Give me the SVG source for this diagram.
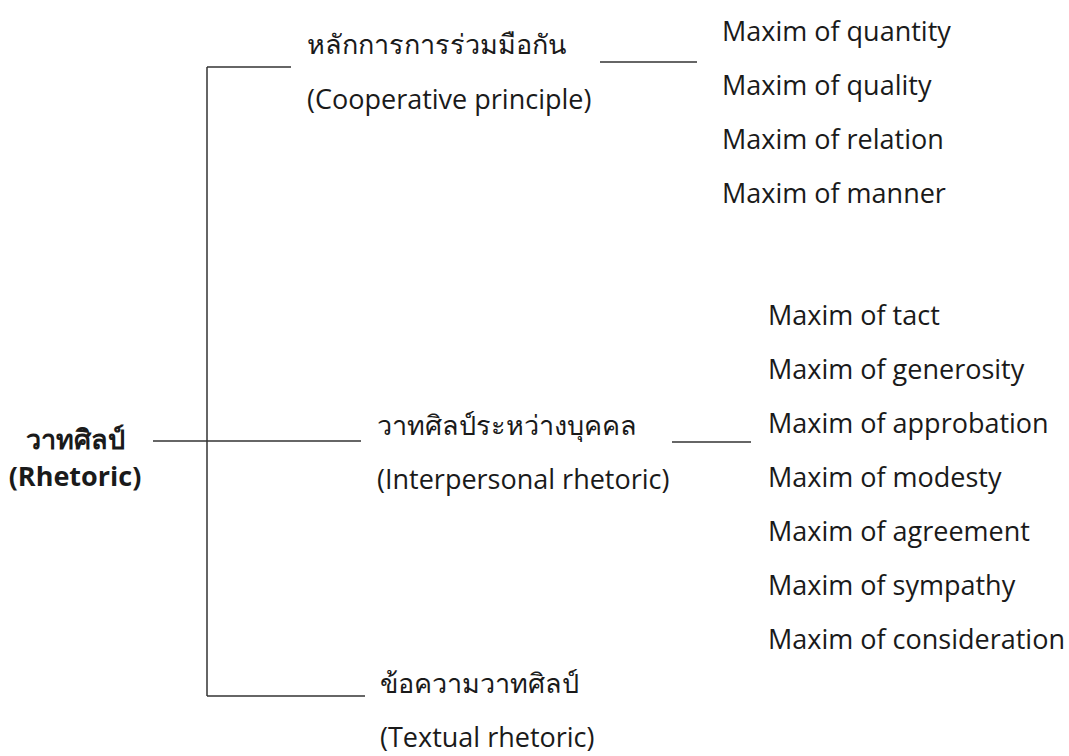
<svg xmlns="http://www.w3.org/2000/svg" width="1069" height="756" viewBox="0 0 1069 756">
<style>
text{font-family:"Open Sans","Noto Sans","DejaVu Sans",sans-serif;font-size:27px;fill:#1a1a1a}
.b{font-weight:bold}
line{stroke:#333;stroke-width:1.5}
</style>
<rect width="1069" height="756" fill="#fff"/>
<g id="connectors">
<line x1="207" y1="67" x2="207" y2="696"/>
<line x1="207" y1="67" x2="291" y2="67"/>
<line x1="153" y1="441" x2="361" y2="441"/>
<line x1="207" y1="696" x2="365" y2="696"/>
<line x1="600" y1="62" x2="697" y2="62"/>
<line x1="672" y1="442" x2="751" y2="442"/>
</g>
<g id="root"><text class="b" x="75" y="449" text-anchor="middle">วาทศิลป์</text><text class="b" x="75" y="486" text-anchor="middle">(Rhetoric)</text></g>
<g id="cooperative"><text x="307" y="54">หลักการการร่วมมือกัน</text><text x="307" y="109">(Cooperative principle)</text></g>
<g id="interpersonal"><text x="377" y="435">วาทศิลป์ระหว่างบุคคล</text><text x="377" y="489">(Interpersonal rhetoric)</text></g>
<g id="textual"><text x="380" y="693">ข้อความวาทศิลป์</text><text x="380" y="747">(Textual rhetoric)</text></g>
<g id="coop-maxims">
<text x="722" y="41">Maxim of quantity</text>
<text x="722" y="95">Maxim of quality</text>
<text x="722" y="149">Maxim of relation</text>
<text x="722" y="203">Maxim of manner</text>
</g>
<g id="inter-maxims">
<text x="768" y="325">Maxim of tact</text>
<text x="768" y="379">Maxim of generosity</text>
<text x="768" y="433">Maxim of approbation</text>
<text x="768" y="487">Maxim of modesty</text>
<text x="768" y="541">Maxim of agreement</text>
<text x="768" y="595">Maxim of sympathy</text>
<text x="768" y="649">Maxim of consideration</text>
</g>
</svg>
